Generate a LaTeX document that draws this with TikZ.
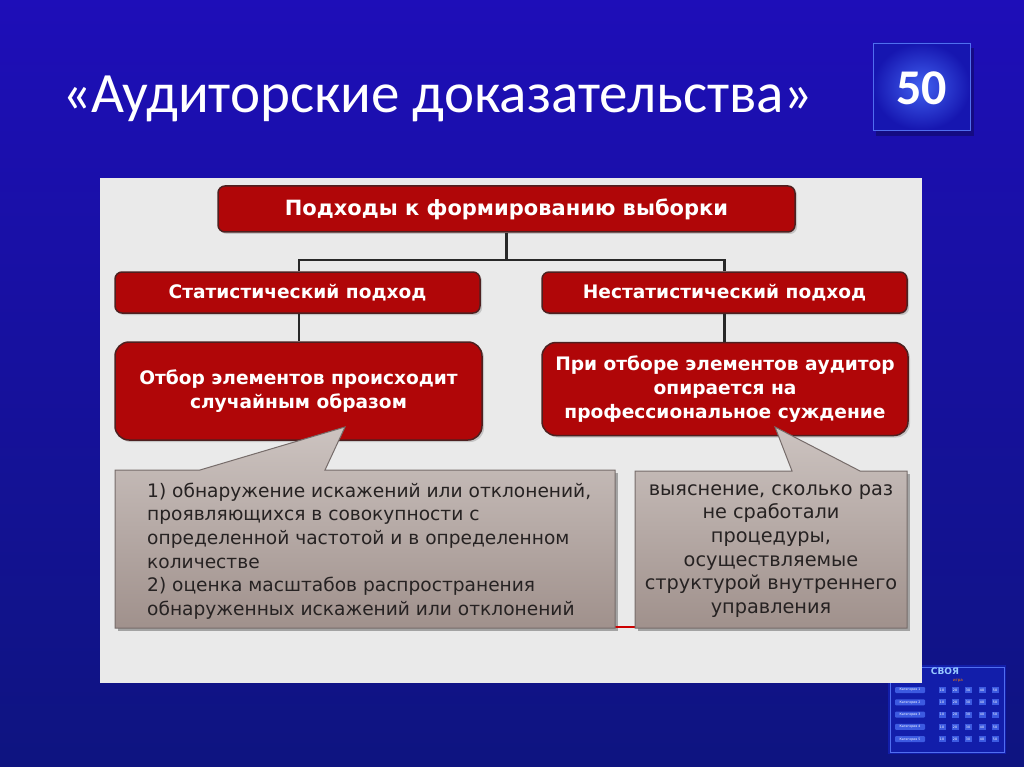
\documentclass[tikz,border=0pt]{standalone}
\usepackage{fontspec}
\setmainfont{DejaVu Sans}
\newfontfamily\titlefont{Carlito}
\usetikzlibrary{calc,shadows}
\definecolor{bgtop}{RGB}{30,14,184}
\definecolor{bgmid}{RGB}{36,54,206}
\definecolor{bgbot}{RGB}{14,20,128}
\definecolor{panelc}{RGB}{234,234,234}
\definecolor{redc}{RGB}{176,6,8}
\definecolor{redline}{RGB}{78,32,32}
\definecolor{greytop}{RGB}{204,195,192}
\definecolor{greybot}{RGB}{160,145,140}
\definecolor{greyline}{RGB}{118,108,106}
\definecolor{textdark}{RGB}{38,34,34}
\definecolor{connc}{RGB}{40,40,40}
\definecolor{fiftyin}{RGB}{64,96,240}
\definecolor{fiftyout}{RGB}{22,22,176}
\definecolor{boardc}{RGB}{18,30,170}
\definecolor{boardedge}{RGB}{80,110,240}
\definecolor{btnc}{RGB}{60,90,225}
\definecolor{logoc}{RGB}{150,200,255}
\tikzset{
  redbox/.style={draw=redline, line width=1.5pt, fill=redc, rounded corners=#1,
    text=white, align=center, inner sep=0pt,
    drop shadow={shadow xshift=2pt, shadow yshift=-2pt, opacity=0.35}},
  redbox/.default=7pt,
  redfont/.style={font=\bfseries\fontsize{18.6}{24}\selectfont},
  conn/.style={draw=connc, line width=2.4pt},
  greyshape/.style={top color=greytop, bottom color=greybot, draw=greyline, line width=1pt},
  greyshadow/.style={fill=black, opacity=0.3},
  greytext/.style={text=textdark, inner sep=0pt},
  boardtxt/.style={text=white, font=\fontsize{3.2}{3.2}\selectfont, inner sep=0pt}
}
\begin{document}
\begin{tikzpicture}[x=1pt,y=-1pt]
\useasboundingbox (0,0) rectangle (1024,767);
% background
\shade[top color=bgtop, middle color=bgmid, bottom color=bgbot] (0,0) rectangle (1024,767);
% title
\node[font=\titlefont\fontsize{57}{62}\selectfont, text=white, anchor=base west, inner sep=0pt] (title) at (62,113) {«Аудиторские доказательства»};
% 50 box
\fill[black, opacity=0.25] (876,48) rectangle (974,136);
\shade[inner color=fiftyin, outer color=fiftyout] (873,43) rectangle (970,130);
\draw[boardedge, line width=0.8pt] (873,43) rectangle (970,130);
\node[font=\titlefont\bfseries\fontsize{50}{50}\selectfont, text=white, inner sep=0pt] (fifty) at (921.5,88) {50};
% board thumbnail
\fill[boardc] (888,665) rectangle (1006,754);
\draw[boardedge, line width=1pt] (890,667) rectangle (1004,752);
\node[text=logoc, font=\bfseries\fontsize{9}{9}\selectfont, inner sep=0pt] (logo) at (945,671) {СВОЯ};
\node[text=orange, font=\fontsize{4}{4}\selectfont, inner sep=0pt] (logob) at (958,681) {игра};
\foreach \i in {1,...,5}{
  \pgfmathsetmacro\yy{690+(\i-1)*12.3}
  \node[boardtxt, fill=btnc, rounded corners=1pt, minimum width=30pt, minimum height=6pt] (cat\i) at (910,\yy) {Категория \i};
  \foreach \v/\xx in {10/942,20/955,30/968,40/982,50/995}{
    \node[boardtxt, fill=btnc, minimum width=7pt, minimum height=6pt] (val\i\v) at (\xx,\yy) {\v};
  }
}
% panel
\fill[panelc] (100,178) rectangle (922,683);
% red boxes
\node[redbox, minimum width=577pt, minimum height=46pt, font=\bfseries\fontsize{21}{24}\selectfont] (top) at (506.5,209) {Подходы к формированию выборки};
\node[redbox, redfont, minimum width=365pt, minimum height=41pt] (stat) at (297.5,292.5) {Статистический подход};
\node[redbox, redfont, minimum width=365pt, minimum height=41pt] (nstat) at (724.5,292.5) {Нестатистический подход};
\node[redbox=14pt, redfont, minimum width=367pt, minimum height=98pt] (lowL) at (298.5,391) {Отбор элементов происходит\\случайным образом};
\node[redbox=14pt, redfont, minimum width=366pt, minimum height=93pt] (lowR) at (725,389) {При отборе элементов аудитор\\опирается на\\профессиональное суждение};
% connectors
\coordinate (j) at (506.5,260);
\draw[conn] (top.south) -- (j);
\draw[conn] (stat.north -| 299,0) |- (j);
\draw[conn] (nstat.north) |- (j);
\draw[conn] (stat.south -| 299,0) -- (lowL.north -| 299,0);
\draw[conn] (nstat.south) -- (lowR.north -| nstat.south);
% grey callouts
\fill[greyshadow, shift={(3,3)}] (115,470) -- (615,470) -- (615,628) -- (115,628) -- cycle;
\fill[greyshadow, shift={(3,3)}] (635,471) -- (907,471) -- (907,628) -- (635,628) -- cycle;
\draw[red!80!black, line width=1.2pt] (615,627) -- (635,627);
\shadedraw[greyshape] (115,470) -- (200,470) -- (345,427) -- (325,470) -- (615,470) -- (615,628) -- (115,628) -- cycle;
\shadedraw[greyshape] (635,471) -- (792,471) -- (775,427) -- (860,471) -- (907,471) -- (907,628) -- (635,628) -- cycle;
\node[greytext, anchor=west, align=left, font=\fontsize{18.6}{23.7}\selectfont] (gL) at (147,551) {1) обнаружение искажений или отклонений,\\проявляющихся в совокупности с\\определенной частотой и в определенном\\количестве\\2) оценка масштабов распространения\\обнаруженных искажений или отклонений};
\node[greytext, align=center, font=\fontsize{19.3}{23.7}\selectfont] (gR) at (771,551) {выяснение, сколько раз\\не сработали\\процедуры,\\осуществляемые\\структурой внутреннего\\управления};
\end{tikzpicture}
\end{document}
